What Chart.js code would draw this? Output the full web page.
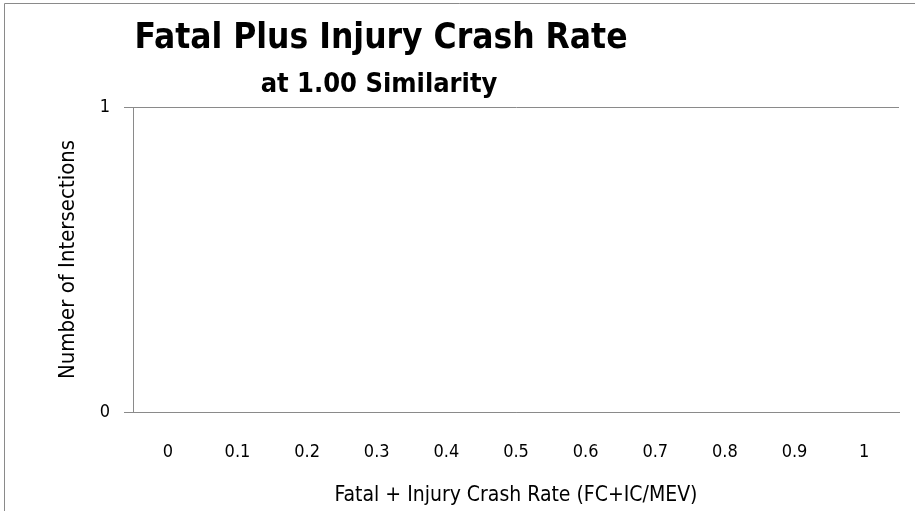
<!DOCTYPE html>
<html>
<head>
<meta charset="utf-8">
<script src="https://cdn.jsdelivr.net/npm/chart.js@4/dist/chart.umd.min.js"></script>
<style>
  html, body { margin: 0; padding: 0; background: #fff; }
  #wrap { position: relative; width: 915px; height: 511px; }
</style>
</head>
<body>
<div id="wrap"><canvas id="crashChart" width="915" height="511"></canvas></div>
<script>
// Chart data
var rateLabels = ['0', '0.1', '0.2', '0.3', '0.4', '0.5', '0.6', '0.7', '0.8', '0.9', '1'];
var intersectionCounts = [0, 0, 0, 0, 0, 0, 0, 0, 0, 0, 0];
var yTicks = [0, 1];
var titleMain = 'Fatal Plus Injury Crash Rate';
var titleSub = 'at 1.00 Similarity';

var FONT = '"Liberation Sans Narrow", "DejaVu Sans Condensed", "Liberation Sans", sans-serif';
var GRAY = '#8a8a8a';

// white background, outer frame and the two title lines
var framePlugin = {
    id: 'frame',
    beforeDraw: function(chart) {
        var ctx = chart.ctx;
        ctx.save();
        ctx.fillStyle = '#fff';
        ctx.fillRect(0, 0, chart.width, chart.height);
        ctx.strokeStyle = GRAY;
        ctx.lineWidth = 1;
        ctx.beginPath();
        ctx.moveTo(4.5, chart.height);
        ctx.lineTo(4.5, 3.5);
        ctx.lineTo(chart.width, 3.5);
        ctx.stroke();
        ctx.restore();
    },
    afterDraw: function(chart) {
        var ctx = chart.ctx;
        ctx.save();
        ctx.fillStyle = '#000';
        ctx.textAlign = 'center';
        ctx.textBaseline = 'alphabetic';
        ctx.font = 'bold 35px ' + FONT;
        ctx.fillText(titleMain, 381, 48);
        ctx.font = 'bold 27px ' + FONT;
        ctx.fillText(titleSub, 379, 92);
        ctx.restore();
    }
};

var ctx = document.getElementById('crashChart').getContext('2d');
var crashChart = new Chart(ctx, {
    type: 'bar',
    data: {
        labels: rateLabels,
        datasets: [{
            label: 'Number of Intersections',
            data: intersectionCounts,
            backgroundColor: '#4f81bd',
            borderWidth: 0
        }]
    },
    options: {
        responsive: false,
        animation: false,
        layout: {
            padding: { left: 0, right: 16, top: 107, bottom: 0 }
        },
        plugins: {
            legend: { display: false },
            tooltip: { enabled: false }
        },
        scales: {
            x: {
                grid: { display: false, drawTicks: false },
                border: { display: true, color: GRAY, width: 1 },
                ticks: {
                    color: '#000',
                    padding: 30,
                    maxRotation: 0,
                    autoSkip: false,
                    font: { family: FONT, size: 18 }
                },
                title: {
                    display: true,
                    text: 'Fatal + Injury Crash Rate (FC+IC/MEV)',
                    color: '#000',
                    font: { family: FONT, size: 21 },
                    padding: { top: 0, bottom: 3 }
                },
                afterFit: function(scale) { scale.height = 99; }
            },
            y: {
                min: 0,
                max: 1,
                afterBuildTicks: function(scale) {
                    scale.ticks = yTicks.map(function(v) { return { value: v }; });
                },
                grid: { color: GRAY, lineWidth: 1, drawTicks: true, tickLength: 9, tickColor: GRAY },
                border: { display: true, color: GRAY, width: 1 },
                ticks: {
                    color: '#000',
                    padding: 14,
                    font: { family: FONT, size: 18 }
                },
                title: {
                    display: true,
                    text: 'Number of Intersections',
                    color: '#000',
                    font: { family: FONT, size: 22 },
                    padding: { top: 55, bottom: 0 }
                },
                afterFit: function(scale) { scale.width = 133; }
            }
        }
    },
    plugins: [framePlugin]
});
</script>
</body>
</html>
